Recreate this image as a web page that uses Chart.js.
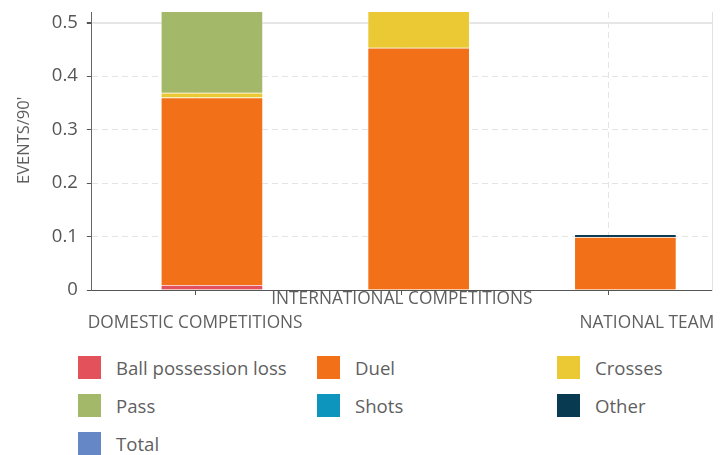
<!DOCTYPE html>
<html lang="en">
<head>
<meta charset="UTF-8">
<title>Events per 90'</title>
<script src="https://cdn.jsdelivr.net/npm/chart.js@4"></script>
<style>
  html, body { margin: 0; padding: 0; background: #fff; }
  body { width: 724px; height: 455px; position: relative; overflow: hidden; font-family: 'Open Sans', sans-serif; }
  .chart-box { position: absolute; left: 0; top: 0; width: 724px; height: 345px; }
  .legend { position: absolute; left: 78px; top: 356px; display: grid; grid-template-columns: 239px 240px 160px; row-gap: 15px; }
  .legend-item { display: flex; align-items: center; height: 23px; font-size: 18.6px; color: #5f5f5f; white-space: nowrap; }
  .legend-item span.box { width: 23px; height: 23px; margin-right: 15px; flex: none; }
</style>
</head>
<body>
<div class="chart-box"><canvas id="chart"></canvas></div>
<div class="legend" id="legend"></div>
<script>
// Data
const categories = [
  ['', 'DOMESTIC COMPETITIONS'],
  'INTERNATIONAL COMPETITIONS',
  ['', '                 NATIONAL TEAM']
];
const yTicks = [0, 0.1, 0.2, 0.3, 0.4, 0.5];

const seriesNames = ['Ball possession loss', 'Duel', 'Crosses', 'Pass', 'Shots', 'Other', 'Total'];
const seriesColors = ['#e3525b', '#f27018', '#ebc935', '#a4b86a', '#0e95bd', '#083a52', '#6687c6'];

const ballPossessionLoss = [0.009, 0, 0];
const duel = [0.351, 0.453, 0.099];
const crosses = [0.009, 0.08, 0];
const pass = [0.16, 0, 0];
const shots = [0, 0, 0];
const other = [0, 0, 0.005];
const total = [null, null, null];

const seriesValues = [ballPossessionLoss, duel, crosses, pass, shots, other, total];

Chart.defaults.font.family = "'Open Sans', sans-serif";
Chart.defaults.color = '#5f5f5f';

// Bars sit on a hidden linear axis, nudged right of the category labels like the original
const datasets = seriesNames.map((name, s) => ({
  label: name,
  data: seriesValues[s].map((v, i) => ({ x: i, y: v })),
  backgroundColor: seriesColors[s],
  borderColor: 'rgba(255,255,255,0.3)',
  borderWidth: 1,
  barThickness: 102,
  xAxisID: 'xb',
  yAxisID: 'y'
}));

// ignore label overhang so the plot area keeps the reference size
const noOverhang = (scale) => {
  scale.paddingLeft = 0;
  scale.paddingRight = 0;
  scale.paddingTop = 0;
  scale.paddingBottom = 0;
};

const chart = new Chart(document.getElementById('chart'), {
  type: 'bar',
  data: { labels: categories, datasets },
  options: {
    responsive: true,
    maintainAspectRatio: false,
    animation: false,
    layout: { padding: { top: 12, left: 11, right: 12, bottom: 10 } },
    plugins: {
      legend: { display: false },
      tooltip: { enabled: false }
    },
    scales: {
      x: {
        type: 'category',
        labels: categories,
        offset: true,
        afterFit: (scale) => {
          noOverhang(scale);
          scale.height = 45; // two label rows of 24px
        },
        grid: {
          offset: false,
          color: '#e4e4e4',
          tickColor: '#555',
          tickLength: 5
        },
        border: { color: '#555', width: 1, dash: [6, 4] },
        ticks: {
          autoSkip: false,
          maxRotation: 0,
          minRotation: 0,
          padding: -8,
          color: '#5f5f5f',
          font: { size: 17.3, lineHeight: '24px' }
        }
      },
      xb: {
        type: 'linear',
        display: false,
        offset: false,
        stacked: true,
        min: -0.581,
        max: 2.419
      },
      y: {
        stacked: true,
        min: 0,
        max: 0.52,
        afterFit: noOverhang,
        afterBuildTicks: (scale) => {
          scale.ticks = yTicks.map(v => ({ value: v }));
        },
        grid: {
          color: (ctx) => (ctx.tick && ctx.tick.value === 0.5 ? '#e6e6e6' : '#e4e4e4'),
          lineWidth: (ctx) => (ctx.tick && ctx.tick.value === 0.5 ? 2 : 1),
          tickColor: '#555',
          tickLength: 5
        },
        border: {
          color: '#666',
          width: 1,
          dash: (ctx) => (ctx.tick && ctx.tick.value === 0.5 ? [] : [6, 4])
        },
        ticks: {
          padding: 9,
          color: '#555',
          font: { size: 18.5 },
          callback: (v) => String(v)
        },
        title: {
          display: true,
          text: "     EVENTS/90'",
          color: '#5f5f5f',
          font: { size: 16.5 },
          padding: { top: 3, bottom: 9 }
        }
      },
      y2: {
        position: 'right',
        min: 0,
        max: 0.52,
        afterFit: noOverhang,
        grid: { drawOnChartArea: false, drawTicks: false },
        ticks: { display: false },
        border: { color: '#e2e2e2', width: 1 }
      }
    }
  }
});

// HTML legend, three columns like the reference
const legend = document.getElementById('legend');
seriesNames.forEach((name, s) => {
  const item = document.createElement('div');
  item.className = 'legend-item';
  item.innerHTML = '<span class="box" style="background:' + seriesColors[s] + '"></span>' + name;
  legend.appendChild(item);
});
</script>
</body>
</html>
